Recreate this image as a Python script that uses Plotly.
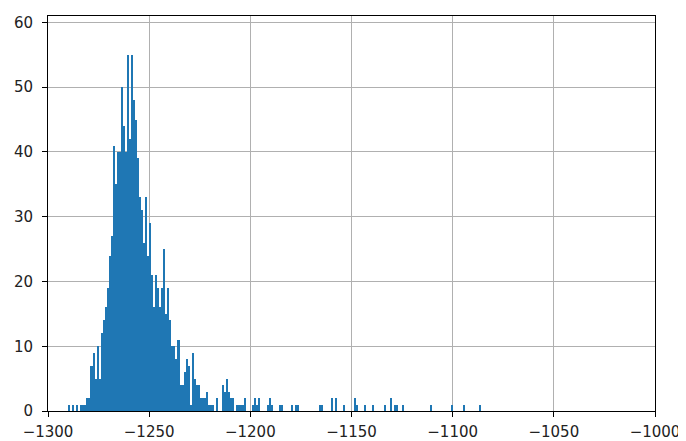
import plotly.graph_objects as go

# Histogram data: bins of width 1, first bin starts at -1290
bin_start = -1290
bin_width = 1
counts = [
    1, 0, 1, 0, 1, 0, 1, 1, 1, 2,          # -1290 .. -1281
    2, 7, 9, 5, 10, 5, 12, 14, 16, 19,     # -1280 .. -1271
    24, 27, 41, 35, 40, 40, 50, 44, 40, 55,  # -1270 .. -1261
    42, 55, 48, 45, 39, 33, 31, 26, 33, 24,  # -1260 .. -1251
    29, 21, 16, 21, 19, 16, 19, 25, 15, 19,  # -1250 .. -1241
    14, 10, 10, 8, 11, 4, 4, 6, 8, 7,        # -1240 .. -1231
    1, 9, 5, 4, 4, 2, 2, 2, 3, 1,            # -1230 .. -1221
    1, 1, 0, 2, 0, 0, 4, 3, 5, 3,            # -1220 .. -1211
    2, 2, 0, 1, 1, 1, 1, 2, 0, 0,            # -1210 .. -1201
    0, 1, 2, 1, 2, 0, 0, 0, 1, 2,            # -1200 .. -1191
    1, 0, 0, 0, 1, 1, 0, 0, 0, 0,            # -1190 .. -1181
    1, 0, 1, 1, 0, 0, 0, 0, 0, 0,            # -1180 .. -1171
    0, 0, 0, 0, 1, 1, 0, 0, 0, 0,            # -1170 .. -1161
    2, 0, 2, 0, 0, 0, 1, 0, 0, 0,            # -1160 .. -1151
    0, 2, 1, 0, 0, 0, 1, 0, 0, 0,            # -1150 .. -1141
    1, 0, 0, 0, 0, 0, 1, 0, 0, 2,            # -1140 .. -1131
    0, 1, 1, 0, 0, 1, 0, 0, 0, 0,            # -1130 .. -1121
    0, 0, 0, 0, 0, 0, 0, 0, 0, 1,            # -1120 .. -1111
    0, 0, 0, 0, 0, 0, 0, 0, 0, 1,            # -1110 .. -1101
    0, 0, 0, 0, 0, 1, 0, 0, 0, 0,            # -1100 .. -1091
    0, 0, 0, 1,                              # -1090 .. -1087
]

x_ticks = [-1300, -1250, -1200, -1150, -1100, -1050, -1000]
y_ticks = [0, 10, 20, 30, 40, 50, 60]

centers = [bin_start + bin_width * (i + 0.5) for i in range(len(counts))]

fig = go.Figure(
    go.Bar(
        x=centers,
        y=counts,
        width=bin_width,
        marker=dict(color="#1f77b4", line=dict(width=0)),
        hoverinfo="x+y",
    )
)

axis_common = dict(
    showline=True,
    linecolor="#000000",
    linewidth=1,
    mirror=True,
    ticks="outside",
    ticklen=5,
    tickwidth=1,
    tickcolor="#000000",
    showgrid=True,
    gridcolor="#b0b0b0",
    gridwidth=1,
    zeroline=False,
    automargin=False,
    tickfont=dict(family="DejaVu Sans", size=15, color="#222222"),
)

# page body has an 8px default margin, so the figure is sized to fit the window
fig.update_layout(
    width=678,
    height=433,
    margin=dict(l=40, r=31, t=8, b=30),
    paper_bgcolor="white",
    plot_bgcolor="white",
    bargap=0,
    showlegend=False,
    xaxis=dict(range=[-1300, -1000], tickvals=x_ticks, ticklabelstandoff=2, **axis_common),
    yaxis=dict(range=[0, 61], tickvals=y_ticks, ticklabelstandoff=6, **axis_common),
)

fig.write_html("out.html")
